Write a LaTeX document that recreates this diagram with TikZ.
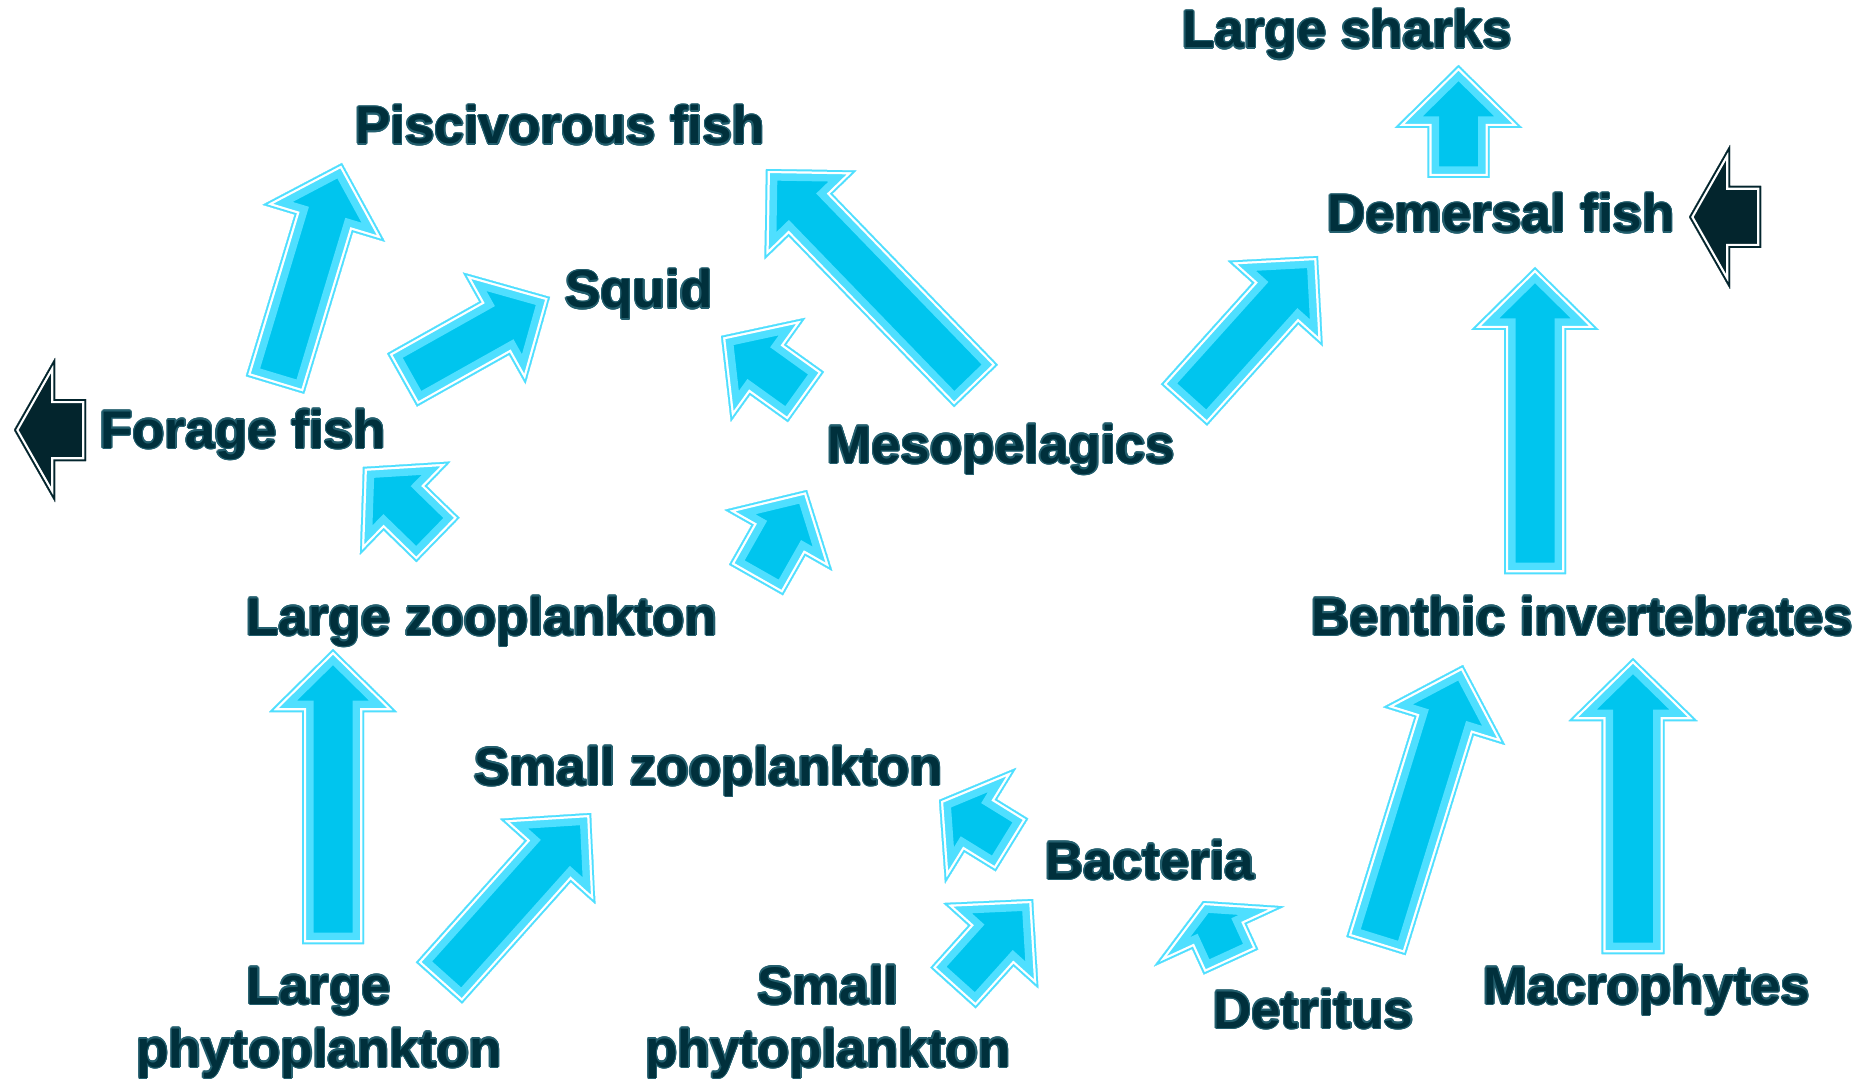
\documentclass[tikz,border=0pt]{standalone}
\usepackage{fontspec}
\setmainfont{Liberation Sans}
\usepackage{contour}
\contourlength{1.3pt}
\usepackage{tikz}
\usetikzlibrary{calc}
\definecolor{webtext}{RGB}{0,48,60}
\definecolor{textrim}{RGB}{35,95,110}
\definecolor{incore}{RGB}{0,197,238}
\definecolor{inband}{RGB}{79,223,255}
\definecolor{inrim}{RGB}{79,223,255}
\definecolor{outcore}{RGB}{3,37,45}
\definecolor{outband}{RGB}{3,37,45}
\definecolor{outrim}{RGB}{3,37,45}

\tikzset{
  taxon/.style={anchor=base west, inner sep=0pt, text=webtext,
                font=\fontsize{53}{63}\selectfont\bfseries},
  arrowoutline/.style={insert path={(fa1) -- (fa2) -- (fa3) -- (fa4) -- (fa5) -- (fa6) -- (fa7) -- cycle}},
}
\newcommand{\rimtext}[1]{\contour{textrim}{#1}}

% block arrow: #1 tail, #2 tip, #3 half shaft, #4 half head, #5 head length, #6 colour set
\newcommand{\flowarrow}[6]{%
  \coordinate (fab) at ($(#2)!#5!(#1)$);
  \coordinate (fa1) at ($(#1)!#3!-90:(#2)$);
  \coordinate (fa2) at ($(fab)!#3!-90:(#2)$);
  \coordinate (fa3) at ($(fab)!#4!-90:(#2)$);
  \coordinate (fa4) at (#2);
  \coordinate (fa5) at ($(fab)!#4!90:(#2)$);
  \coordinate (fa6) at ($(fab)!#3!90:(#2)$);
  \coordinate (fa7) at ($(#1)!#3!90:(#2)$);
  \begin{scope}
    \clip[arrowoutline];
    \fill[#6core, arrowoutline];
    \draw[#6band, line width=23pt, arrowoutline];
    \draw[white, line width=8pt, arrowoutline];
    \draw[#6rim, line width=3.5pt, arrowoutline];
  \end{scope}}

\begin{document}
\begin{tikzpicture}[x=1pt, y=-1pt]
\useasboundingbox (0,0) rectangle (1872,1083);
\fill[white] (0,0) rectangle (1872,1083);

% groups
\node[taxon] (sharks)   at (1182,48)   {\rimtext{Large sharks}};
\node[taxon] (pisc)     at (355,144)   {\rimtext{Piscivorous fish}};
\node[taxon] (demersal) at (1327,232)  {\rimtext{Demersal fish}};
\node[taxon] (squid)    at (565,308)   {\rimtext{Squid}};
\node[taxon] (forage)   at (100,448)   {\rimtext{Forage fish}};
\node[taxon] (meso)     at (827,463)   {\rimtext{Mesopelagics}};
\node[taxon] (lzoo)     at (246,635)   {\rimtext{Large zooplankton}};
\node[taxon] (benthic)  at (1311,635)  {\rimtext{Benthic invertebrates}};
\node[taxon] (szoo)     at (474,785)   {\rimtext{Small zooplankton}};
\node[taxon] (bact)     at (1045,879)  {\rimtext{Bacteria}};
\node[taxon] (detritus) at (1213,1028) {\rimtext{Detritus}};
\node[taxon] (macro)    at (1483,1004) {\rimtext{Macrophytes}};
\node[taxon, anchor=base, align=center] (lphyto) at (319,1067) {\rimtext{Large}\\\rimtext{phytoplankton}};
\node[taxon, anchor=base, align=center] (sphyto) at (828,1067) {\rimtext{Small}\\\rimtext{phytoplankton}};

% arrow ends
\coordinate (lp-lz-t) at (333,944);   \coordinate (lp-lz-h) at (333,649);
\coordinate (lp-sz-t) at (439,983);   \coordinate (lp-sz-h) at (591,813);
\coordinate (ff-pf-t) at (275,385);   \coordinate (ff-pf-h) at (342,163);
\coordinate (ff-sq-t) at (402,380);   \coordinate (ff-sq-h) at (550,297);
\coordinate (lz-ff-t) at (438,540);   \coordinate (lz-ff-h) at (363,467);
\coordinate (lz-me-t) at (756,580);   \coordinate (lz-me-h) at (807,490);
\coordinate (me-sq-t) at (806,397);   \coordinate (me-sq-h) at (721,336);
\coordinate (me-pf-t) at (976,386);   \coordinate (me-pf-h) at (766,169);
\coordinate (me-df-t) at (1184,405);  \coordinate (me-df-h) at (1318,256);
\coordinate (df-ls-t) at (1458.5,178);\coordinate (df-ls-h) at (1458.5,65);
\coordinate (bi-df-t) at (1535,574);  \coordinate (bi-df-h) at (1535,267);
\coordinate (de-bi-t) at (1376,946);  \coordinate (de-bi-h) at (1463,665);
\coordinate (ma-bi-t) at (1633,954);  \coordinate (ma-bi-h) at (1633,658);
\coordinate (ba-sz-t) at (1012,845);  \coordinate (ba-sz-h) at (939,800);
\coordinate (sp-ba-t) at (953,988);   \coordinate (sp-ba-h) at (1033,899);
\coordinate (de-ba-t) at (1231,962);  \coordinate (de-ba-h) at (1203,901);
\coordinate (ff-out-t) at (86,430);   \coordinate (ff-out-h) at (14,430);
\coordinate (df-out-t) at (1761,217); \coordinate (df-out-h) at (1689,217);

% feeding links
\flowarrow{lp-lz-t}{lp-lz-h}{31pt}{64pt}{63pt}{in}
\flowarrow{lp-sz-t}{lp-sz-h}{31pt}{64pt}{65pt}{in}
\flowarrow{ff-pf-t}{ff-pf-h}{30.5pt}{64pt}{63pt}{in}
\flowarrow{ff-sq-t}{ff-sq-h}{30.5pt}{64pt}{64pt}{in}
\flowarrow{lz-ff-t}{lz-ff-h}{31pt}{65pt}{59pt}{in}
\flowarrow{lz-me-t}{lz-me-h}{31pt}{62pt}{58pt}{in}
\flowarrow{me-sq-t}{me-sq-h}{31pt}{64pt}{58pt}{in}
\flowarrow{me-pf-t}{me-pf-h}{30.5pt}{64pt}{64pt}{in}
\flowarrow{me-df-t}{me-df-h}{31pt}{64pt}{64pt}{in}
\flowarrow{df-ls-t}{df-ls-h}{31pt}{64pt}{63pt}{in}
\flowarrow{bi-df-t}{bi-df-h}{31pt}{64pt}{63pt}{in}
\flowarrow{de-bi-t}{de-bi-h}{31pt}{64pt}{64pt}{in}
\flowarrow{ma-bi-t}{ma-bi-h}{31.5pt}{64.5pt}{63pt}{in}
\flowarrow{ba-sz-t}{ba-sz-h}{31pt}{68pt}{49pt}{in}
\flowarrow{sp-ba-t}{sp-ba-h}{30.5pt}{64pt}{63pt}{in}
\flowarrow{de-ba-t}{de-ba-h}{30pt}{72pt}{39pt}{in}

% fishery exports
\flowarrow{ff-out-t}{ff-out-h}{31pt}{72pt}{41pt}{out}
\flowarrow{df-out-t}{df-out-h}{31pt}{72pt}{41pt}{out}

\end{tikzpicture}
\end{document}
